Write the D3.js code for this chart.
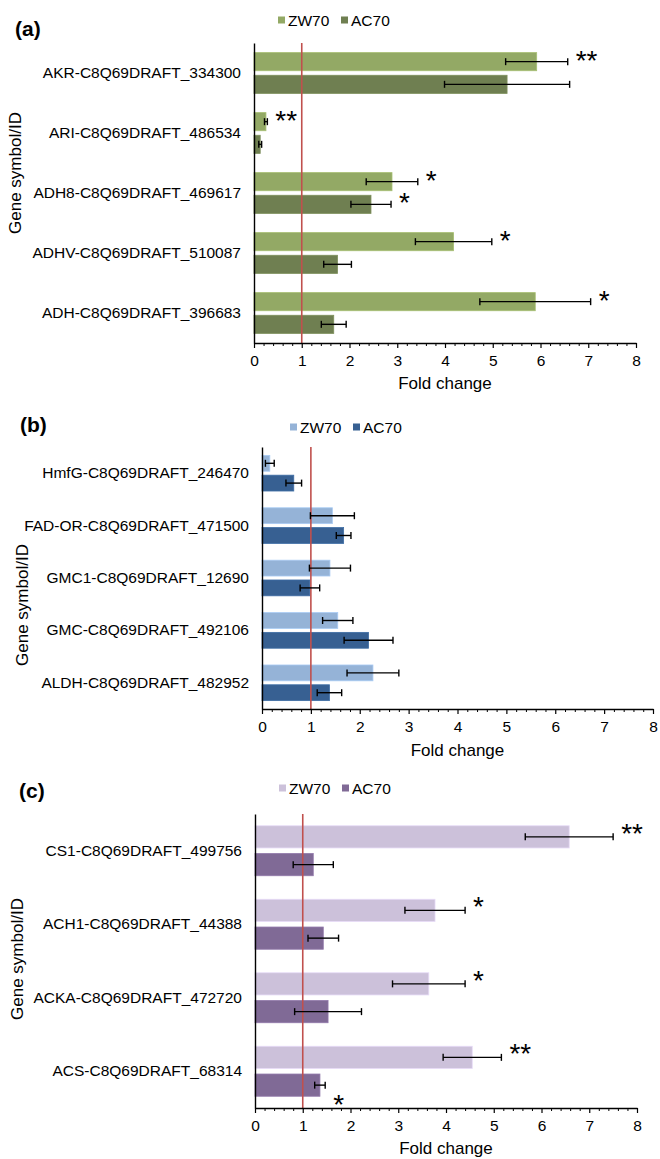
<!DOCTYPE html>
<html>
<head>
<meta charset="utf-8">
<script src="https://cdn.jsdelivr.net/npm/d3@7"></script>
<style>
  body { margin: 0; background: #fff; }
  text { font-family: "Liberation Sans", Arial, sans-serif; fill: #000; }
</style>
</head>
<body>
<div id="chart"></div>
<script>
// Data
const seriesNames = ['ZW70', 'AC70']
const xTicks = [0, 1, 2, 3, 4, 5, 6, 7, 8]

// (a)
const genesA = ['AKR-C8Q69DRAFT_334300', 'ARI-C8Q69DRAFT_486534', 'ADH8-C8Q69DRAFT_469617', 'ADHV-C8Q69DRAFT_510087', 'ADH-C8Q69DRAFT_396683']
const zwA = [5.92, 0.25, 2.89, 4.18, 5.89]
const zwErrA = [0.65, 0.03, 0.54, 0.80, 1.16]
const acA = [5.30, 0.13, 2.45, 1.75, 1.67]
const acErrA = [1.31, 0.03, 0.42, 0.29, 0.26]
const zwSigA = ['**', '**', '*', '*', '*']
const acSigA = ['', '', '*', '', '']

// (b)
const genesB = ['HmfG-C8Q69DRAFT_246470', 'FAD-OR-C8Q69DRAFT_471500', 'GMC1-C8Q69DRAFT_12690', 'GMC-C8Q69DRAFT_492106', 'ALDH-C8Q69DRAFT_482952']
const zwB = [0.16, 1.44, 1.39, 1.55, 2.27]
const zwErrB = [0.09, 0.45, 0.42, 0.31, 0.53]
const acB = [0.65, 1.67, 0.98, 2.18, 1.38]
const acErrB = [0.16, 0.15, 0.20, 0.50, 0.25]
const zwSigB = ['', '', '', '', '']
const acSigB = ['', '', '', '', '']

// (c)
const genesC = ['CS1-C8Q69DRAFT_499756', 'ACH1-C8Q69DRAFT_44388', 'ACKA-C8Q69DRAFT_472720', 'ACS-C8Q69DRAFT_68314']
const zwC = [6.58, 3.77, 3.64, 4.55]
const zwErrC = [0.92, 0.63, 0.76, 0.61]
const acC = [1.22, 1.43, 1.53, 1.36]
const acErrC = [0.42, 0.32, 0.70, 0.11]
const zwSigC = ['**', '*', '*', '**']
const acSigC = ['', '', '', '*']

// Layout
const svg = d3
  .select('#chart')
  .append('svg')
  .attr('width', 660)
  .attr('height', 1159)

const panels = [
  {
    tag: '(a)', genes: genesA, zw: zwA, zwErr: zwErrA, ac: acA, acErr: acErrA, zwSig: zwSigA, acSig: acSigA,
    colors: ['#93a965', '#6f7f51'],
    top: 43, bottom: 343, left: 254, right: 636,
    legendX: 278, legendY: 20, tagX: 15, tagY: 28, yTitleX: 15, yTitleY: 173, xTitleY: 383,
  },
  {
    tag: '(b)', genes: genesB, zw: zwB, zwErr: zwErrB, ac: acB, acErr: acErrB, zwSig: zwSigB, acSig: acSigB,
    colors: ['#95b3d7', '#376092'],
    top: 447, bottom: 709, left: 262, right: 653,
    legendX: 290, legendY: 427, tagX: 20, tagY: 424, yTitleX: 22, yTitleY: 605, xTitleY: 750,
  },
  {
    tag: '(c)', genes: genesC, zw: zwC, zwErr: zwErrC, ac: acC, acErr: acErrC, zwSig: zwSigC, acSig: acSigC,
    colors: ['#ccc1da', '#806a96'],
    top: 814, bottom: 1108, left: 255, right: 637,
    legendX: 279, legendY: 788, tagX: 19, tagY: 790, yTitleX: 17, yTitleY: 959, xTitleY: 1148,
    starBelowAC: true,
  },
]

panels.forEach(drawPanel)

function drawPanel(p) {
  const x = d3.scaleLinear().domain([0, 8]).range([p.left, p.right])
  const y = d3.scaleBand().domain(p.genes).range([p.top, p.bottom])
  const step = y.bandwidth()
  const group = step * 0.68
  const ys = d3.scaleBand().domain(seriesNames).range([0, group]).paddingInner(0.2)
  const color = d3.scaleOrdinal().domain(seriesNames).range(p.colors)
  const bh = ys.bandwidth()

  const rows = p.genes.flatMap((gene, i) => [
    { gene, s: 'ZW70', v: p.zw[i], e: p.zwErr[i], sig: p.zwSig[i] },
    { gene, s: 'AC70', v: p.ac[i], e: p.acErr[i], sig: p.acSig[i] },
  ])
  const barY = d => y(d.gene) + (step - group) / 2 + ys(d.s)

  const g = svg.append('g')

  // bars
  g.selectAll('rect.bar')
    .data(rows)
    .join('rect')
    .attr('class', 'bar')
    .attr('x', x(0))
    .attr('y', barY)
    .attr('width', d => x(d.v) - x(0))
    .attr('height', bh)
    .attr('fill', d => color(d.s))
    .attr('stroke', d => d3.color(color(d.s)).brighter(0.35))
    .attr('stroke-width', 0.8)

  // reference line at fold change = 1
  g.append('line')
    .attr('x1', x(1)).attr('x2', x(1))
    .attr('y1', p.top).attr('y2', p.bottom)
    .attr('stroke', '#c0504d')
    .attr('stroke-width', 1.6)

  // error bars
  const eb = g.selectAll('g.err').data(rows).join('g').attr('class', 'err')
    .attr('stroke', '#000').attr('stroke-width', 1.4)
  eb.append('line')
    .attr('x1', d => x(d.v - d.e)).attr('x2', d => x(d.v + d.e))
    .attr('y1', d => barY(d) + bh / 2).attr('y2', d => barY(d) + bh / 2)
  eb.append('line')
    .attr('x1', d => x(d.v - d.e)).attr('x2', d => x(d.v - d.e))
    .attr('y1', d => barY(d) + bh / 2 - 3.5).attr('y2', d => barY(d) + bh / 2 + 3.5)
  eb.append('line')
    .attr('x1', d => x(d.v + d.e)).attr('x2', d => x(d.v + d.e))
    .attr('y1', d => barY(d) + bh / 2 - 3.5).attr('y2', d => barY(d) + bh / 2 + 3.5)

  // significance stars
  g.selectAll('text.sig')
    .data(rows.filter(d => d.sig))
    .join('text')
    .attr('class', 'sig')
    .attr('x', d => x(d.v + d.e) + 8)
    .attr('y', d => (p.starBelowAC && d.s === 'AC70') ? barY(d) + bh + 18 : barY(d) + 17)
    .style('font-size', '28px')
    .text(d => d.sig)

  // x axis
  const xAxis = d3.axisBottom(x).tickValues(xTicks).tickSize(5).tickSizeOuter(0).tickPadding(7)
  const ax = g.append('g').attr('transform', `translate(0,${p.bottom})`).call(xAxis)
  ax.select('.domain').attr('stroke-width', 1.4)
  ax.selectAll('.tick line').attr('stroke-width', 1.2)
  ax.selectAll('text').style('font-size', '15.5px').attr('fill', '#000')

  const minor = d3.range(0, 8.001, 0.2).filter(v => Math.abs(v - Math.round(v)) > 0.01)
  g.append('g')
    .attr('transform', `translate(0,${p.bottom})`)
    .call(d3.axisBottom(x).tickValues(minor).tickSize(3).tickSizeOuter(0).tickFormat(''))
    .call(a => a.select('.domain').remove())
    .selectAll('.tick line').attr('stroke-width', 1)

  // y axis
  const yAxis = d3.axisLeft(y).tickSize(0).tickPadding(13)
  const ay = g.append('g').attr('transform', `translate(${x(0)},0)`).call(yAxis)
  ay.select('.domain').attr('stroke-width', 1.4)
  ay.selectAll('text').style('font-size', '15.5px').attr('fill', '#000')

  // titles
  g.append('text')
    .attr('x', (x(0) + x(8)) / 2)
    .attr('y', p.xTitleY)
    .attr('text-anchor', 'middle')
    .attr('dominant-baseline', 'central')
    .style('font-size', '17px')
    .text('Fold change')

  g.append('text')
    .attr('transform', `translate(${p.yTitleX},${p.yTitleY}) rotate(-90)`)
    .attr('text-anchor', 'middle')
    .attr('dominant-baseline', 'central')
    .style('font-size', '17px')
    .text('Gene symbol/ID')

  g.append('text')
    .attr('x', p.tagX)
    .attr('y', p.tagY)
    .attr('dominant-baseline', 'central')
    .style('font-size', '21px')
    .style('font-weight', 'bold')
    .text(p.tag)

  // legend
  const lg = g.selectAll('g.leg').data(seriesNames).join('g')
    .attr('class', 'leg')
    .attr('transform', (d, i) => `translate(${p.legendX + i * 63},${p.legendY})`)
  lg.append('rect').attr('x', 0).attr('y', -3.5).attr('width', 7).attr('height', 7).attr('fill', d => color(d))
  lg.append('text').attr('x', 10).attr('y', 0).attr('dominant-baseline', 'central')
    .style('font-size', '15.5px').text(d => d)
}
</script>
</body>
</html>
